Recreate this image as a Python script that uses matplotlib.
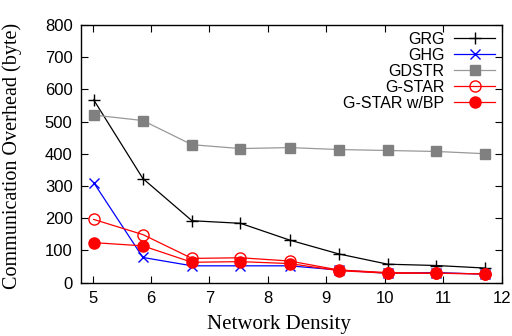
import matplotlib
matplotlib.use("Agg")
import matplotlib.pyplot as plt

# network density sweep
density = [5.02, 5.86, 6.70, 7.53, 8.37, 9.21, 10.05, 10.88, 11.72]

grg = [567, 323, 192, 184, 132, 89, 57, 53, 45]
ghg = [310, 78, 52, 52, 52, 39, 29, 31, 26]
gdstr = [520, 503, 428, 416, 419, 413, 410, 407, 400]
gstar = [196, 149, 75, 77, 67, 39, 31, 29, 27]
gstar_bp = [124, 114, 63, 65, 59, 37, 29, 29, 27]

xticks = [5, 6, 7, 8, 9, 10, 11, 12]
yticks = [0, 100, 200, 300, 400, 500, 600, 700, 800]

fig = plt.figure(figsize=(5.12, 3.36), dpi=100)
ax = fig.add_axes([0.158, 0.159, 0.822, 0.767])

lw = 0.9
ax.plot(density, grg, color="black", lw=lw, marker="+", ms=9, mew=1.0, label="GRG")
ax.plot(density, ghg, color="blue", lw=lw, marker="x", ms=7, mew=1.0, label="GHG")
ax.plot(density, gdstr, color="#999999", lw=lw, marker="s", ms=7,
        mfc="#808080", mec="#808080", label="GDSTR")
ax.plot(density, gstar, color="red", lw=lw, marker="o", ms=8, mfc="none",
        mec="red", mew=1.0, label="G-STAR")
ax.plot(density, gstar_bp, color="red", lw=lw, marker="o", ms=8,
        mfc="red", mec="red", label="G-STAR w/BP")

ax.set_xlim(4.8, 12)
ax.set_ylim(0, 800)
ax.set_xticks(xticks)
ax.set_yticks(yticks)
ax.tick_params(direction="in", top=True, right=True, length=5, width=0.8,
               labelsize=12, pad=6)
for lab in ax.get_xticklabels() + ax.get_yticklabels():
    lab.set_family("Liberation Sans")
for s in ax.spines.values():
    s.set_linewidth(1.0)

ax.set_xlabel("Network Density", family="Liberation Serif", fontsize=15)
ax.set_ylabel("Communication Overhead (byte)", family="Liberation Serif",
              fontsize=14.5)
ax.xaxis.set_label_coords(0.470, -0.125)
ax.yaxis.set_label_coords(-0.14, 0.49)

ax.legend(loc="upper right", bbox_to_anchor=(0.985, 0.973), frameon=False,
          markerfirst=False, prop={"family": "Liberation Sans", "size": 11.5},
          handlelength=2.6, labelspacing=0.06, borderaxespad=0, borderpad=0,
          handletextpad=0.6)

fig.savefig("out.png", dpi=100)
